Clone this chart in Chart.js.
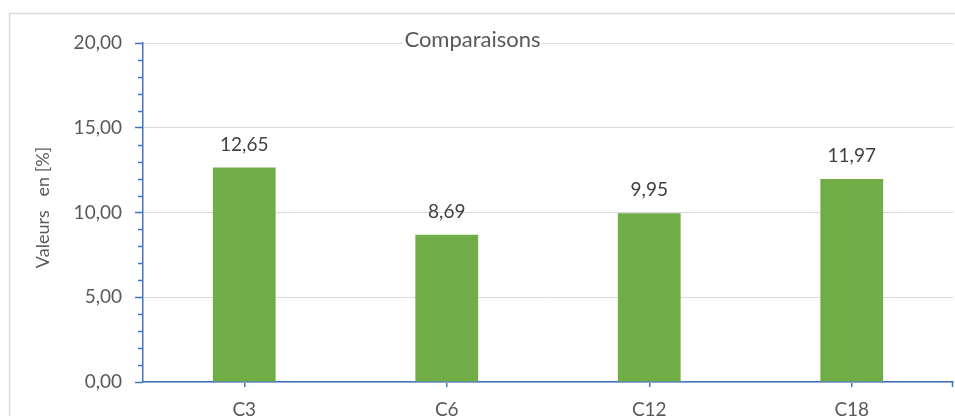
<!DOCTYPE html>
<html>
<head>
<meta charset="utf-8">
<script src="https://cdn.jsdelivr.net/npm/chart.js@4/dist/chart.umd.min.js"></script>
<style>
  html, body { margin: 0; padding: 0; background: #ffffff; }
  #wrap { width: 955px; height: 416px; }
</style>
</head>
<body>
<div id="wrap"><canvas id="chart" width="955" height="416"></canvas></div>
<script>
// Catégories et valeurs (en %)
const categories = ['C3', 'C6', 'C12', 'C18'];
const valeurs = [12.65, 8.69, 9.95, 11.97];
const yTicks = [0, 5, 10, 15, 20];
const titre = 'Comparaisons';
const titreAxeY = 'Valeurs   en [%]';

const FONT = 'Lato, "Open Sans", "Liberation Sans", sans-serif';
const BLEU = '#4472C4';
const VERT = '#70AD47';
const GRILLE = '#d9d9d9';
const TEXTE = '#595959';

const fmt = v => v.toFixed(2).replace('.', ',');

// Fond blanc + cadre gris du graphique
const cadre = {
  id: 'cadre',
  beforeDraw(chart) {
    const ctx = chart.ctx;
    ctx.save();
    ctx.fillStyle = '#ffffff';
    ctx.fillRect(0, 0, chart.width, chart.height);
    ctx.strokeStyle = GRILLE;
    ctx.lineWidth = 1.5;
    ctx.strokeRect(9.5, 13.5, 960, 420);
    ctx.restore();
  }
};

// Graduations secondaires de l'axe Y, tiret de fin d'axe X, étiquettes, titres
const decor = {
  id: 'decor',
  afterDraw(chart) {
    const ctx = chart.ctx;
    const y = chart.scales.y;
    const area = chart.chartArea;
    ctx.save();
    ctx.strokeStyle = BLEU;
    ctx.lineWidth = 1.5;
    for (let v = y.min; v <= y.max; v += 1) {
      if (v % 5 === 0) continue;
      const py = Math.round(y.getPixelForValue(v)) + 0.5;
      ctx.beginPath();
      ctx.moveTo(area.left - 5, py);
      ctx.lineTo(area.left, py);
      ctx.stroke();
    }
    ctx.beginPath();
    ctx.moveTo(area.right - 0.5, area.bottom);
    ctx.lineTo(area.right - 0.5, area.bottom + 5);
    ctx.stroke();

    // valeurs au-dessus des barres
    const meta = chart.getDatasetMeta(0);
    ctx.fillStyle = '#404040';
    ctx.font = '19px ' + FONT;
    ctx.textAlign = 'center';
    ctx.textBaseline = 'alphabetic';
    meta.data.forEach((bar, i) => {
      ctx.fillText(fmt(valeurs[i]), bar.x, bar.y - 17);
    });

    // titre du graphique
    ctx.font = '22px ' + FONT;
    const w = ctx.measureText(titre).width;
    const cx = chart.width / 2 - 5;
    ctx.fillStyle = '#ffffff';
    ctx.fillRect(cx - w / 2 - 2, 30, w + 4, 20);
    ctx.fillStyle = TEXTE;
    ctx.fillText(titre, cx, 46.5);

    // titre de l'axe Y
    ctx.translate(43, (area.top + area.bottom) / 2 - 5);
    ctx.rotate(-Math.PI / 2);
    ctx.font = '18px ' + FONT;
    ctx.textBaseline = 'middle';
    ctx.fillText(titreAxeY, 0, 0);
    ctx.restore();
  }
};

new Chart(document.getElementById('chart'), {
  type: 'bar',
  data: {
    labels: categories,
    datasets: [{
      data: valeurs,
      backgroundColor: VERT,
      borderWidth: 0,
      barPercentage: 0.31,
      categoryPercentage: 1
    }]
  },
  options: {
    responsive: false,
    animation: false,
    layout: { padding: { top: 43, right: 2, bottom: 0, left: 0 } },
    plugins: { legend: { display: false }, tooltip: { enabled: false }, title: { display: false } },
    scales: {
      x: {
        afterFit: s => { s.height = 34; },
        border: { color: BLEU, width: 1.5 },
        grid: { display: true, drawOnChartArea: false, drawTicks: true, tickLength: 5, tickColor: BLEU, offset: false, lineWidth: 1.5 },
        ticks: { color: TEXTE, font: { family: FONT, size: 19 }, padding: 11 }
      },
      y: {
        min: 0,
        max: 20,
        afterFit: s => { s.width = 143; },
        afterBuildTicks: s => { s.ticks = yTicks.map(v => ({ value: v })); },
        border: { color: BLEU, width: 1.5 },
        grid: { color: GRILLE, lineWidth: 1, tickLength: 8, tickColor: BLEU, tickWidth: 1.5 },
        ticks: { color: TEXTE, font: { family: FONT, size: 19 }, padding: 13, callback: v => fmt(v) }
      }
    }
  },
  plugins: [cadre, decor]
});
</script>
</body>
</html>
